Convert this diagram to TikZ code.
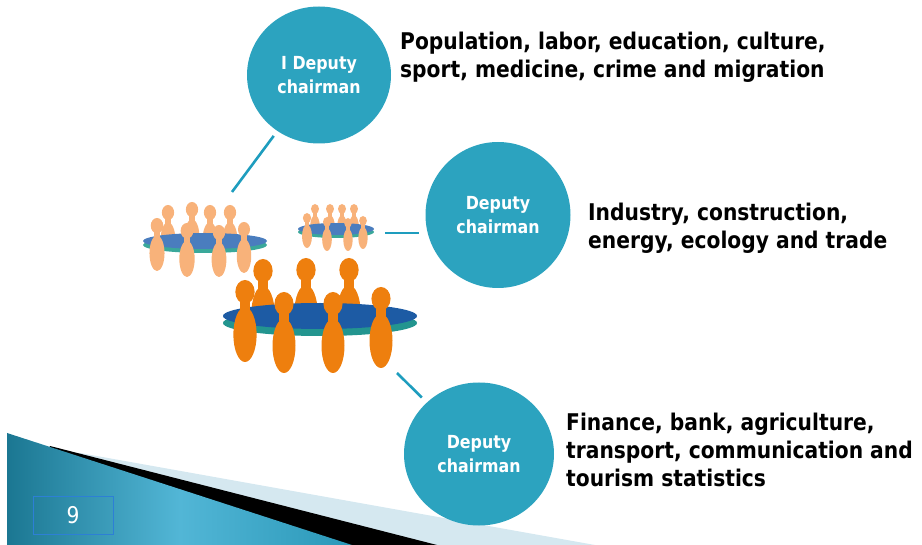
\documentclass[tikz,border=0pt]{standalone}
\usepackage{fontspec}
\setmainfont{DejaVu Sans}[FakeStretch=0.88]
\usetikzlibrary{shapes.geometric,calc}
\definecolor{circ}{HTML}{2CA3BF}
\definecolor{connc}{HTML}{1E9DBE}
\definecolor{darkor}{HTML}{EE7F0E}
\definecolor{lightor}{HTML}{F8B27A}
\definecolor{tabbig}{HTML}{1D5BA4}
\definecolor{tabfade}{HTML}{4A7DBE}
\definecolor{rimbig}{HTML}{23958F}
\definecolor{rimfade}{HTML}{3AA89A}
\definecolor{bandlight}{HTML}{D5E8F0}
\definecolor{tealdark}{HTML}{1B7792}
\definecolor{teallight}{HTML}{52B6D6}
\definecolor{tealright}{HTML}{2A98B8}
\definecolor{boxblue}{HTML}{2D7FD6}
\tikzset{
  person/.pic={
    \fill (0,0.145) ellipse [x radius=0.118, y radius=0.145];
    \fill (-0.06,0.24) rectangle (0.06,0.42);
    \fill (0,0.665) ellipse [x radius=0.142, y radius=0.335];
  },
  chair/.style={ellipse, fill=circ, text=white, inner sep=0pt, align=center,
    font=\fontsize{18}{24}\selectfont\bfseries},
  topic/.style={anchor=west, inner sep=0pt, align=left,
    font=\fontsize{23}{28}\selectfont\bfseries},
  conn/.style={draw=connc, line width=2.6pt}
}
\begin{document}
\begin{tikzpicture}[x=1pt,y=-1pt]
\useasboundingbox (0,0) rectangle (922,545);
% bottom decoration
\fill[bandlight] (80,453) -- (595,545) -- (7,545) -- cycle;
\fill[black] (50,446) -- (437,545) -- (7,545) -- cycle;
\shade[left color=tealdark, right color=tealright, middle color=teallight]
  (7,433) -- (352,545) -- (7,545) -- cycle;
\node[draw=boxblue, line width=0.8pt, minimum width=80pt, minimum height=38pt,
  inner sep=0pt, text=white, font=\fontsize{23}{26}\selectfont] (pg) at (73,515) {9};
% left faded table
\begin{scope}
  \clip (100,150) rectangle (300,241);
  \foreach \px/\py/\ph in {168/205/52,192/202/52,210/205/52,230/205/52}
    \pic[color=lightor, scale=\ph] at (\px,\py) {person};
\end{scope}
\fill[rimfade] (205,245) ellipse [x radius=62, y radius=8];
\fill[tabfade] (205,241) ellipse [x radius=62, y radius=8];
\foreach \px/\py/\ph in {157/218/53,187/223/54,219/225/52,244/222/51}
  \pic[color=lightor, scale=\ph] at (\px,\py) {person};
% right small faded table
\begin{scope}
  \clip (290,150) rectangle (390,229);
  \foreach \px/\py/\ph in {315/204/34,330/204/34,342/204/34,354/204/34}
    \pic[color=lightor, scale=\ph] at (\px,\py) {person};
\end{scope}
\fill[rimfade] (336,232) ellipse [x radius=38, y radius=6];
\fill[tabfade] (336,229) ellipse [x radius=38, y radius=6];
\foreach \px/\py/\ph in {307/213/35,327/217/34,348/218/33,363/216/33}
  \pic[color=lightor, scale=\ph] at (\px,\py) {person};
% big table
\begin{scope}
  \clip (200,240) rectangle (430,316);
  \foreach \px/\py/\ph in {263/259/82,306/258/82,349/258/82}
    \pic[color=darkor, scale=\ph] at (\px,\py) {person};
\end{scope}
\fill[rimbig] (320,323) ellipse [x radius=97, y radius=13];
\fill[tabbig] (320,316) ellipse [x radius=97, y radius=13];
\foreach \px/\py/\ph in {245/280/82,284/292/81,333/292/81,381/287/81}
  \pic[color=darkor, scale=\ph] at (\px,\py) {person};
% circles
\node[chair, minimum width=144pt, minimum height=137pt] (c1) at (319,75) {I Deputy\\chairman};
\node[chair, minimum width=145pt, minimum height=146pt] (c2) at (498,215) {Deputy\\chairman};
\node[chair, minimum width=150pt, minimum height=143pt] (c3) at (479,454) {Deputy\\chairman};
% texts
\node[topic] (d1) at (400,57) {Population, labor, education, culture,\\sport, medicine, crime and migration};
\node[topic] (d2) at (588,228) {Industry, construction,\\energy, ecology and trade};
\node[topic] (d3) at (566,450) {Finance, bank, agriculture,\\transport, communication and\\tourism statistics};
% connectors
\coordinate (t1) at (232,192);
\coordinate (t2) at (385,233);
\coordinate (t3) at (397,373);
\draw[conn, shorten >=6pt] (t1) -- (c1);
\draw[conn, shorten >=6pt] (t2) -- (t2 -| c2.west);
\draw[conn, shorten >=7pt] (t3) -- (c3);
\end{tikzpicture}
\end{document}
